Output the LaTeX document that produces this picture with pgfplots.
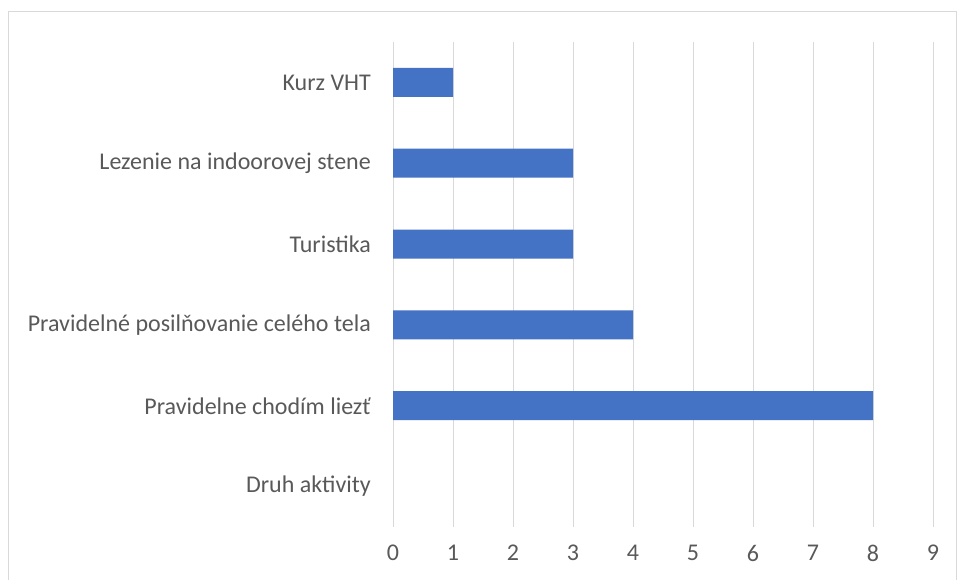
\documentclass[border=0pt]{standalone}
\usepackage{pgfplots}
\pgfplotsset{compat=1.18}
\usepackage{fontspec}
\setmainfont{Carlito}
\definecolor{barblue}{HTML}{4472C4}
\definecolor{gridgray}{HTML}{D9D9D9}
\definecolor{txtgray}{HTML}{595959}
\begin{document}
\begin{tikzpicture}
\useasboundingbox (0pt,0pt) rectangle (957pt,580pt);
\draw[gridgray, line width=1pt] (8pt,-10pt) -- (8pt,568pt) -- (956pt,568pt) -- (956pt,-10pt);
\begin{axis}[
  at={(393pt,53pt)}, anchor=south west,
  scale only axis,
  width=540pt, height=485pt,
  xmin=0, xmax=9, ymin=-0.5, ymax=5.5,
  xbar, bar width=29pt,
  axis line style={draw=none},
  xtick={0,...,9},
  ytick={0,...,5},
  yticklabels={Druh aktivity, Pravidelne chodím liezť, Pravidelné posilňovanie celého tela, Turistika, Lezenie na indoorovej stene, Kurz VHT},
  major tick length=0pt,
  xmajorgrids, grid style={gridgray, line width=1pt},
  ymajorgrids=false,
  /pgf/number format/assume math mode=true,
  tick label style={font=\fontsize{24}{28}\selectfont, text=txtgray, inner sep=0pt},
  yticklabel style={anchor=east, xshift=-22pt},
  xticklabel style={anchor=north, yshift=-18pt},
  clip=false,
]
\addplot[fill=barblue, draw=none] coordinates {(8,1) (4,2) (3,3) (3,4) (1,5)};
\end{axis}
\end{tikzpicture}
\end{document}
